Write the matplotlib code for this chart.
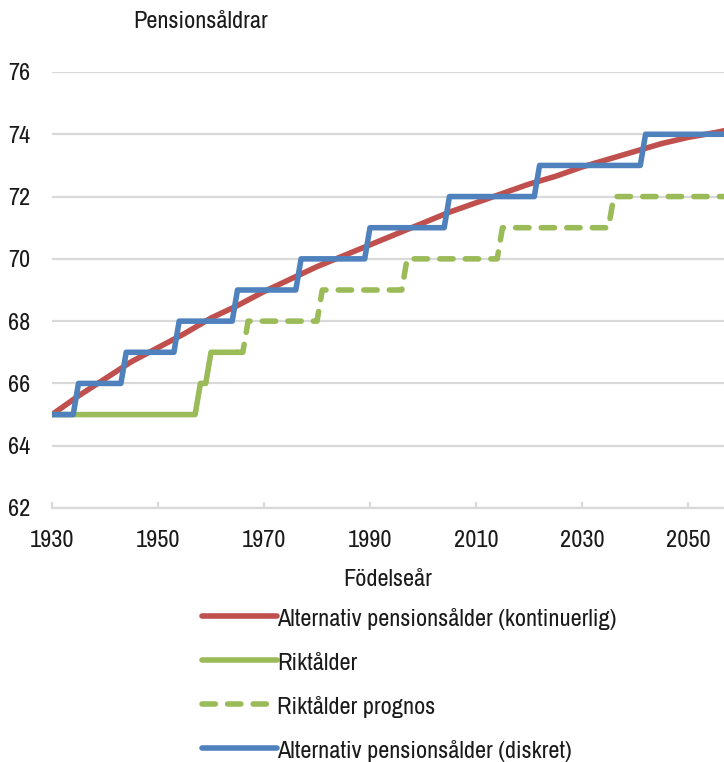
import matplotlib
matplotlib.use("Agg")
import matplotlib.pyplot as plt

plt.rcParams['font.family'] = ['Archivo Narrow', 'Liberation Sans', 'DejaVu Sans']

# Alternativ pensionsålder (kontinuerlig)
years_kont = [1930, 1935, 1940, 1945, 1950, 1955, 1960, 1965, 1970, 1975, 1980, 1985,
              1990, 1995, 2000, 2005, 2010, 2015, 2020, 2025, 2030, 2035, 2040, 2045,
              2050, 2055, 2057]
kont = [65.0, 65.6, 66.15, 66.7, 67.15, 67.6, 68.1, 68.5, 68.95, 69.35, 69.75, 70.1,
        70.45, 70.8, 71.15, 71.5, 71.8, 72.1, 72.4, 72.65, 72.95, 73.2, 73.45, 73.7,
        73.9, 74.05, 74.12]

# Riktålder (beslutad)
years_rikt = [1930, 1957, 1958, 1959, 1960, 1965]
rikt = [65, 65, 66, 66, 67, 67]

# Riktålder prognos
years_progn = [1965, 1966, 1967, 1980, 1981, 1996, 1997, 2014, 2015, 2035, 2036, 2057]
progn = [67, 67, 68, 68, 69, 69, 70, 70, 71, 71, 72, 72]

# Alternativ pensionsålder (diskret)
years_disk = [1930, 1934, 1935, 1943, 1944, 1953, 1954, 1964, 1965, 1976, 1977, 1989,
              1990, 2004, 2005, 2021, 2022, 2041, 2042, 2057]
disk = [65, 65, 66, 66, 67, 67, 68, 68, 69, 69, 70, 70, 71, 71, 72, 72, 73, 73, 74, 74]

red = '#C0504D'
green = '#9BBB59'
blue = '#4F81BD'
grid_col = '#D9D9D9'
txt = '#1a1a1a'
fs = 17.5
lw = 4.0

fig = plt.figure(figsize=(7.24, 7.62), dpi=100)
ax = fig.add_axes([52 / 724, 1 - 508 / 762, 1 - 52 / 724, 436 / 762])

ax.plot(years_kont, kont, color=red, lw=lw, solid_capstyle='round',
        label='Alternativ pensionsålder (kontinuerlig)')
ax.plot(years_rikt, rikt, color=green, lw=lw, solid_capstyle='round', label='Riktålder')
ax.plot(years_progn, progn, color=green, lw=lw, dashes=(2.4, 2.2),
        dash_capstyle='round', label='Riktålder prognos')
ax.plot(years_disk, disk, color=blue, lw=lw, solid_capstyle='round',
        label='Alternativ pensionsålder (diskret)')

ax.set_xlim(1930, 2056.8)
ax.set_ylim(62, 76)
ax.set_yticks(range(62, 77, 2))
ax.set_xticks(range(1930, 2051, 20))
ax.grid(axis='y', color=grid_col, lw=1.6)
ax.set_axisbelow(True)
for s in ['top', 'right', 'left']:
    ax.spines[s].set_visible(False)
ax.spines['bottom'].set_color(grid_col)
ax.spines['bottom'].set_linewidth(1.6)
ax.tick_params(axis='y', length=0, pad=15.5, labelsize=fs, colors=txt)
ax.tick_params(axis='x', direction='in', length=4.5, width=1.6, color=grid_col,
               pad=15.5, labelsize=fs, labelcolor=txt)
ax.set_xlabel('Födelseår', fontsize=fs, color=txt, labelpad=13)

fig.text(133 / 724, 1 - 22 / 762, 'Pensionsåldrar', fontsize=fs, color=txt,
         ha='left', va='center')

fig.legend(loc='upper left', bbox_to_anchor=(202 / 724, 1 - 605 / 762), frameon=False,
           fontsize=fs, handlelength=3.1, handleheight=1.3, handletextpad=0.0,
           labelspacing=0.72, borderpad=0, borderaxespad=0, labelcolor=txt)

fig.savefig('out.png', dpi=100)
